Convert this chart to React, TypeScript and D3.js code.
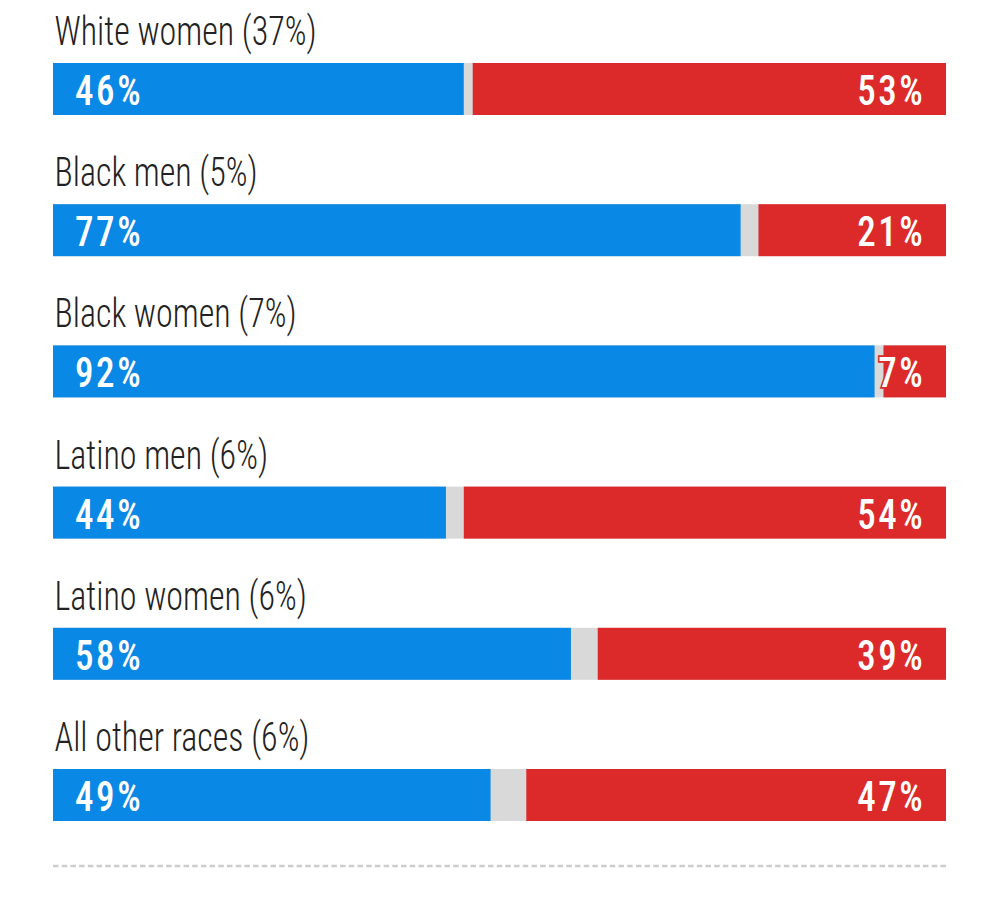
import React from "react";
import * as d3 from "d3";

const groups = ["White women (37%)", "Black men (5%)", "Black women (7%)", "Latino men (6%)", "Latino women (6%)", "All other races (6%)"];
const demValues = [46, 77, 92, 44, 58, 49];
const repValues = [53, 21, 7, 54, 39, 47];

const W = 1000;
const H = 916;
const BLUE = "#0a88e5";
const RED = "#dc2a2a";
const GRAY = "#d9d9d9";
const FONT = "'Roboto Condensed', Roboto, 'Liberation Sans', sans-serif";

export default function App() {
  const x = d3.scaleLinear().domain([0, 100]).range([53, 946]);
  const y = d3
    .scaleBand<string>()
    .domain(groups)
    .range([63, 63 + 141.2 * groups.length])
    .paddingInner(0)
    .paddingOuter(0);
  const bh = 52;
  return (
    <svg width={W} height={H} viewBox={`0 0 ${W} ${H}`} style={{ position: "absolute", left: 0, top: 0 }}>
      <rect width={W} height={H} fill="#fff" />
      {groups.map((g, i) => {
        const yb = y(g) as number;
        const dem = demValues[i];
        const rep = repValues[i];
        return (
          <g key={g}>
            <text
              transform={`translate(54.5,${yb - 18}) scale(0.83,1)`}
              fontFamily={FONT}
              fontSize={41}
              fill="#222"
              fontWeight={300}
            >
              {g}
            </text>
            <rect x={x(0)} y={yb} width={x(100) - x(0)} height={bh} fill={GRAY} />
            <rect x={x(0)} y={yb} width={x(dem) - x(0)} height={bh} fill={BLUE} />
            <rect x={x(100 - rep)} y={yb} width={x(100) - x(100 - rep)} height={bh} fill={RED} />
            <text
              transform={`translate(75,${yb + 42}) scale(0.88,1)`}
              fontFamily={FONT}
              fontSize={42}
              fill="#fff"
              fontWeight={500}
              letterSpacing={3}
            >
              {dem}%
            </text>
            <text
              transform={`translate(925.5,${yb + 42}) scale(0.88,1)`}
              textAnchor="end"
              fontFamily={FONT}
              fontSize={42}
              fill="#fff"
              fontWeight={500}
              letterSpacing={3}
              stroke={RED}
              strokeWidth={3.5}
              style={{ paintOrder: "stroke" }}
            >
              {rep}%
            </text>
          </g>
        );
      })}
      <line x1={53} x2={946} y1={866} y2={866} stroke="#cccccc" strokeWidth={2.5} strokeDasharray="5.5 3.2" />
    </svg>
  );
}
